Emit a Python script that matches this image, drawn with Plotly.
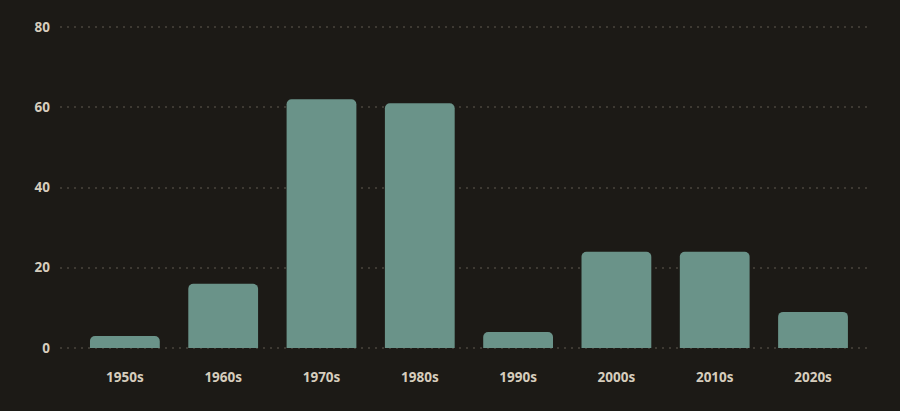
import plotly.graph_objects as go

decades = ["1950s", "1960s", "1970s", "1980s", "1990s", "2000s", "2010s", "2020s"]
counts = [3, 16, 62, 61, 4, 24, 24, 9]
y_ticks = [0, 20, 40, 60, 80]

bg = "#1c1a16"
text_color = "#d6cdbd"
label_font = dict(family="Open Sans", size=13.5, color=text_color, weight="bold")

fig = go.Figure(
    go.Bar(
        x=decades,
        y=counts,
        marker=dict(color="#6a9389", cornerradius=5, line=dict(width=0)),
        hoverinfo="x+y",
    )
)

fig.update_layout(
    width=900,
    height=411,
    paper_bgcolor=bg,
    plot_bgcolor=bg,
    margin=dict(l=60, r=28, t=25, b=61),
    bargap=0.29,
    showlegend=False,
    font=label_font,
    xaxis=dict(
        range=[-0.66, 7.6],
        showgrid=False,
        zeroline=False,
        showline=False,
        ticks="",
        tickfont=label_font,
        ticklabelstandoff=17,
    ),
    yaxis=dict(
        range=[-0.5, 80.5],
        tickvals=y_ticks,
        showgrid=True,
        gridcolor="#3e3a33",
        griddash="2px,5px",
        gridwidth=1.5,
        zeroline=False,
        showline=False,
        ticks="",
        tickfont=label_font,
        ticklabelstandoff=9,
    ),
)

# no page margin so the figure fills the window
fig.write_html(
    "out.html",
    config={"displayModeBar": False},
    post_script="document.body.style.margin='0';document.body.style.background='#1c1a16';",
)
